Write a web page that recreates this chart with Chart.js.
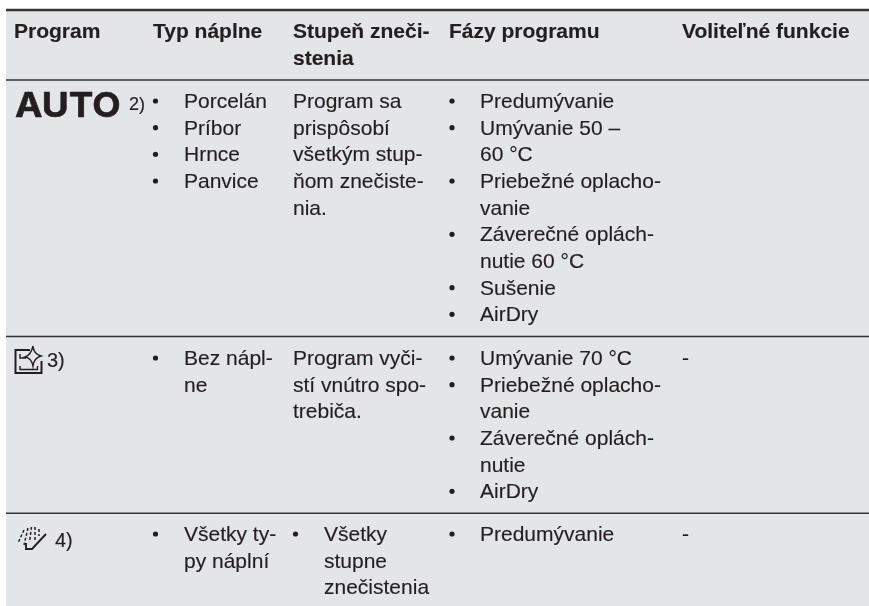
<!DOCTYPE html>
<html lang="sk">
<head>
<meta charset="utf-8">
<title>Programy</title>
<style>html,body{margin:0;padding:0;background:#fff}#c{display:block}</style>
<script src="https://cdn.jsdelivr.net/npm/chart.js@4/dist/chart.umd.min.js"></script>
</head>
<body>
<canvas id="c" width="869" height="606"></canvas>
<script>
// ---- content ----
const headers = [["Program"],["Typ náplne"],["Stupeň zneči-","stenia"],["Fázy programu"],["Voliteľné funkcie"]];
const programLabels = ["AUTO","",""];
const programNotes = ["2)","3)","4)"];
const loadItems = [
  [["Porcelán"],["Príbor"],["Hrnce"],["Panvice"]],
  [["Bez nápl-","ne"]],
  [["Všetky ty-","py náplní"]]
];
const soilPlain = [
  ["Program sa","prispôsobí","všetkým stup-","ňom znečiste-","nia."],
  ["Program vyči-","stí vnútro spo-","trebiča."],
  []
];
const soilItems = [[],[],[["Všetky","stupne","znečistenia"]]];
const phaseItems = [
  [["Predumývanie"],["Umývanie 50 –","60 °C"],["Priebežné oplacho-","vanie"],["Záverečné oplách-","nutie 60 °C"],["Sušenie"],["AirDry"]],
  [["Umývanie 70 °C"],["Priebežné oplacho-","vanie"],["Záverečné oplách-","nutie"],["AirDry"]],
  [["Predumývanie"]]
];
const optionNotes = ["","-","-"];

// ---- layout ----
const pageW = 869, pageH = 606, panelLeft = 6;
const ruleTop = 10, ruleRows = [80, 336.6, 513.3];
const colX = [14, 153, 293, 449, 682];
const bulletX = {load:155.5, soil:295.5, phase:452};
const itemX = {load:184, soil:324, phase:480};
const headBase = 38, rowBase = [108, 365, 541], pitch = 26.67;
const noteBase = [110, 367, 547], noteX = [129, 47, 55];
const INK = "#231f20", PANEL = "#e4e5e7", RULE = "#343335";
const bodyFont = "21px 'Liberation Sans'", boldFont = "bold 21px 'Liberation Sans'";

const rulePts = y => [{x:panelLeft,y},{x:pageW,y}];
const ruleDataset = (y,w) => ({data:rulePts(y),showLine:true,borderColor:RULE,borderWidth:w,pointRadius:0,order:1});

const tablePlugin = {
  id:"tablePlugin",
  afterDatasetsDraw(chart){
    const {ctx,scales:{x:sx,y:sy}} = chart;
    const text = (s,x,y,font) => {
      ctx.font = font||bodyFont;
      const px = sx.getPixelForValue(x), py = sy.getPixelForValue(y);
      ctx.lineWidth = 0.15; ctx.strokeStyle = INK;
      ctx.strokeText(s,px,py);
      ctx.fillText(s,px,py);
    };
    const dot = (x,y) => {ctx.beginPath();ctx.arc(sx.getPixelForValue(x),sy.getPixelForValue(y-7),2.6,0,7);ctx.fill();};
    const list = (items,key,base) => {
      let y = base;
      items.forEach(lines => {
        dot(bulletX[key],y);
        lines.forEach(l => {text(l,itemX[key],y); y += pitch;});
      });
    };
    ctx.save();
    ctx.fillStyle = INK; ctx.textBaseline = "alphabetic"; ctx.textAlign = "left";
    headers.forEach((lines,c) => lines.forEach((l,i) => text(l,colX[c],headBase+i*pitch,boldFont)));
    rowBase.forEach((b,r) => {
      list(loadItems[r],"load",b);
      list(soilItems[r],"soil",b);
      soilPlain[r].forEach((l,i) => text(l,colX[2],b+i*pitch));
      list(phaseItems[r],"phase",b);
      if(optionNotes[r]) text(optionNotes[r],colX[4],b);
      text(programNotes[r],noteX[r],noteBase[r],r===0?"18px 'Liberation Sans'":"20px 'Liberation Sans'");
    });
    // AUTO wordmark
    ctx.save();
    ctx.translate(15,117); ctx.scale(1.085,1);
    ctx.font = "700 34px Inter";
    ctx.lineWidth = 0.5; ctx.strokeStyle = INK;
    ctx.strokeText(programLabels[0],0,0);
    ctx.fillText(programLabels[0],0,0);
    ctx.restore();
    // cleaning-program icon
    ctx.strokeStyle = INK; ctx.lineWidth = 2;
    ctx.beginPath();
    ctx.moveTo(30,350);ctx.lineTo(15.5,350);ctx.lineTo(15.5,373);ctx.lineTo(41.5,373);ctx.lineTo(41.5,361);
    ctx.stroke();
    ctx.lineWidth = 1.4;
    ctx.beginPath();
    ctx.moveTo(20,354);ctx.lineTo(20,358);ctx.lineTo(26,358);
    ctx.moveTo(20,366);ctx.lineTo(20,369.5);ctx.lineTo(37.5,369.5);ctx.lineTo(37.5,366);
    ctx.stroke();
    ctx.beginPath();
    ctx.moveTo(33,346);ctx.quadraticCurveTo(33.5,354,41,356);
    ctx.quadraticCurveTo(34,358,33,366);
    ctx.quadraticCurveTo(31.5,358,25,357);
    ctx.quadraticCurveTo(31,355,33,346);
    ctx.stroke();
    // rinse icon
    ctx.lineWidth = 1.9;
    ctx.beginPath();
    ctx.moveTo(26,543);ctx.lineTo(26,549);ctx.lineTo(32,549);ctx.lineTo(46,534);
    ctx.stroke();
    ctx.lineWidth = 1.5; ctx.setLineDash([3,2]);
    ctx.beginPath();
    ctx.moveTo(24,530);ctx.lineTo(18,543);
    ctx.moveTo(28,528);ctx.lineTo(24,545);
    ctx.moveTo(31.5,527);ctx.lineTo(29.5,542);
    ctx.moveTo(35,527);ctx.lineTo(35,540);
    ctx.moveTo(39,529);ctx.lineTo(39,536);
    ctx.stroke();
    ctx.restore();
  }
};

new Chart(document.getElementById("c"),{
  type:"scatter",
  data:{datasets:[
    {data:[{x:panelLeft,y:ruleTop},{x:pageW,y:ruleTop}],showLine:true,borderWidth:0,pointRadius:0,
     fill:{value:pageH},backgroundColor:PANEL,order:2},
    ruleDataset(ruleTop,2.5),
    ...ruleRows.map(y => ruleDataset(y,1.5))
  ]},
  options:{
    responsive:false,animation:false,
    layout:{padding:0},
    plugins:{legend:{display:false},tooltip:{enabled:false},title:{display:false}},
    scales:{
      x:{type:"linear",min:0,max:pageW,display:false},
      y:{type:"linear",min:0,max:pageH,reverse:true,display:false}
    }
  },
  plugins:[tablePlugin]
});
</script>
</body>
</html>
